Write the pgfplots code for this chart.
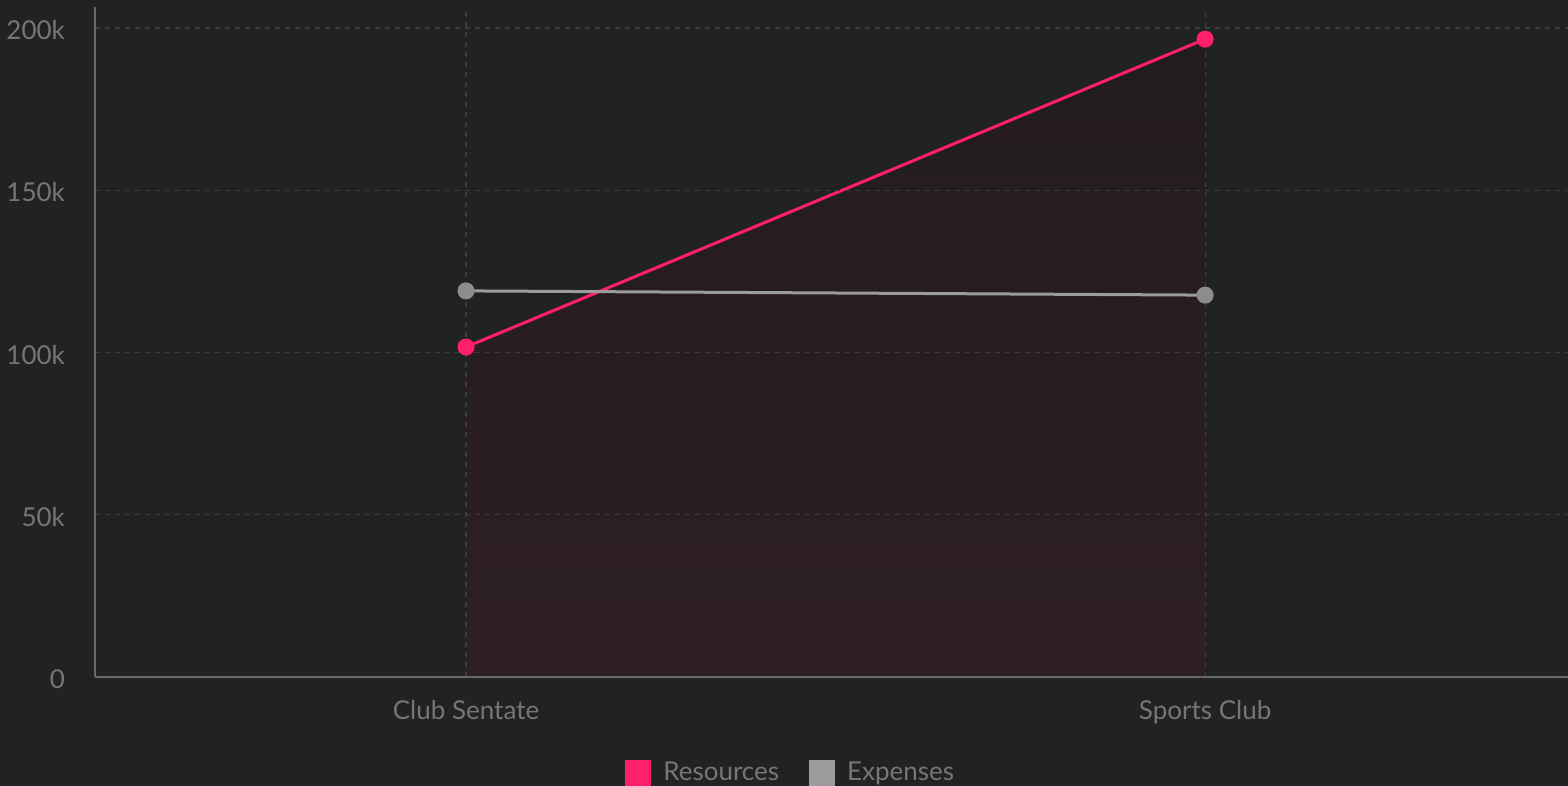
\documentclass[border=0pt]{standalone}
\usepackage{pgfplots}
\pgfplotsset{compat=1.18}
\usepackage{fontspec}
\setmainfont{Lato}
\definecolor{bg}{HTML}{212224}
\definecolor{gridc}{HTML}{3C3D40}
\definecolor{axisc}{HTML}{6A6A6B}
\definecolor{labelc}{HTML}{767677}
\definecolor{res}{HTML}{FF1F6B}
\definecolor{expm}{HTML}{8C8C8C}
\definecolor{expl}{HTML}{9C9C9C}
\definecolor{filltop}{HTML}{221C1F}
\definecolor{fillbot}{HTML}{2E1F25}
\begin{document}
\begin{tikzpicture}
\fill[bg] (-47.5pt,-54.5pt) rectangle (736.5pt,338.5pt);
\useasboundingbox (-47.5pt,-54.5pt) rectangle (736.5pt,338.5pt);
\begin{axis}[
  at={(0pt,0pt)}, anchor=south west,
  scale only axis, width=736.5pt, height=335pt,
  xmin=-0.502, xmax=1.491, ymin=0, ymax=206500,
  axis x line*=bottom, axis y line*=left,
  axis line style={draw=axisc, line width=0.8pt, -},
  axis on top,
  xtick={0,1}, xticklabels={Club Sentate, Sports Club},
  ytick={0,50000,100000,150000,200000},
  yticklabels={0,50k,100k,150k,200k},
  scaled y ticks=false,
  major tick length=0pt,
  xmajorgrids, ymajorgrids,
  major grid style={draw=gridc, line width=0.6pt, dash pattern=on 2.5pt off 2.5pt},
  tick label style={font=\fontsize{13}{15}\selectfont, text=labelc},
  /pgf/number format/assume math mode=true,
  yticklabel style={xshift=-11.5pt, yshift=-1pt},
  xticklabel style={yshift=-8pt},
  legend style={at={(0.473,-0.143)}, anchor=center, draw=none, fill=none,
    legend columns=2, font=\fontsize{13}{15}\selectfont, text=labelc,
    /tikz/every odd column/.append style={column sep=4pt},
    /tikz/every even column/.append style={column sep=13pt}},
  legend image code/.code={\fill[#1] (0pt,-6pt) rectangle (11.5pt,5.5pt);},
  clip=false,
]
\addplot[draw=none, top color=filltop, bottom color=fillbot, forget plot]
  coordinates {(0,101700) (1,196600)} \closedcycle;
\addplot[res, line width=1.5pt, mark=*, mark size=3.5pt, mark options={fill=res, draw=res}]
  coordinates {(0,101700) (1,196600)};
\addlegendentry{Resources}
\addplot[expl, line width=1.5pt, mark=*, mark size=3.5pt, mark options={fill=expm, draw=expm}]
  coordinates {(0,119000) (1,117700)};
\addlegendentry{Expenses}
\end{axis}
\end{tikzpicture}
\end{document}
